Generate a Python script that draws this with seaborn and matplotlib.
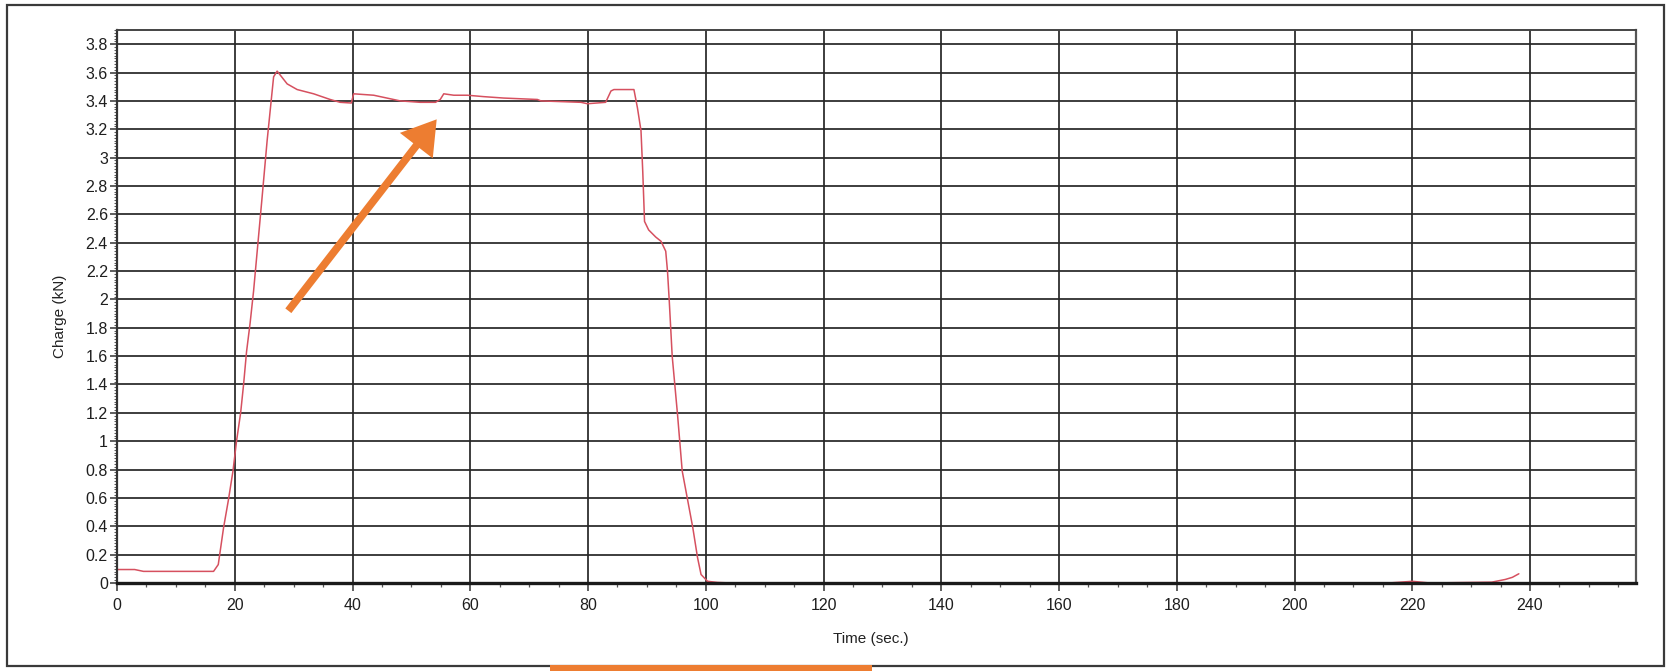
import matplotlib
matplotlib.use("Agg")
import matplotlib.pyplot as plt
from matplotlib.ticker import MultipleLocator, FuncFormatter
from matplotlib.patches import Rectangle
import seaborn as sns
import pandas as pd

# ---- data ----
time_s = [0, 3.0, 4.5, 16.4, 17.2, 18.1, 18.9, 19.7, 20.3, 21.0, 21.5, 22.0, 22.6, 23.2,
          24.6, 25.5, 26.6, 27.2, 28.9, 30.6, 33.4, 36.2, 37.9, 39.8, 40.2, 43.6, 48.1,
          51.5, 54.1, 54.9, 55.5, 57.2, 59.5, 62.3, 65.7, 71.4, 72.0, 78.8, 79.9, 83.0,
          83.9, 84.4, 87.8, 88.4, 89.0, 89.3, 89.6, 90.3, 91.5, 92.4, 93.2, 93.5, 93.8,
          94.3, 95.2, 96.0, 96.9, 97.8, 98.6, 99.2, 100.3, 102.0, 104.3, 216.0, 218.0,
          220.0, 223.0, 233.5, 235.8, 237.0, 238.1]
charge_kn = [0.095, 0.095, 0.082, 0.082, 0.13, 0.39, 0.58, 0.79, 1.0, 1.2, 1.4, 1.63, 1.83, 2.06,
             2.70, 3.12, 3.57, 3.61, 3.52, 3.48, 3.45, 3.41, 3.39, 3.385, 3.45, 3.44, 3.40,
             3.39, 3.39, 3.41, 3.45, 3.44, 3.44, 3.43, 3.42, 3.41, 3.40, 3.39, 3.38, 3.39,
             3.47, 3.48, 3.48, 3.35, 3.19, 2.90, 2.55, 2.49, 2.44, 2.41, 2.34, 2.20, 1.99,
             1.60, 1.19, 0.79, 0.59, 0.39, 0.18, 0.06, 0.012, 0.004, 0.0, 0.0, 0.006,
             0.012, 0.0, 0.006, 0.025, 0.04, 0.065]
x_major_ticks = [0, 20, 40, 60, 80, 100, 120, 140, 160, 180, 200, 220, 240]
x_label = "Time (sec.)"
y_label = "Charge (kN)"

# annotation arrow (data coordinates of tail and tip)
arrow_tail = (29.1, 1.92)
arrow_tip = (54.3, 3.27)

df = pd.DataFrame({"t": time_s, "c": charge_kn})

sns.set_style("white")
plt.rcParams["font.family"] = ["Liberation Sans", "DejaVu Sans"]

W, H = 1669, 671
fig = plt.figure(figsize=(W / 100, H / 100), dpi=100)
fig.patch.set_facecolor("white")

ax = fig.add_axes([117 / W, 1 - 583 / H, (1636 - 117) / W, (583 - 30) / H])

sns.lineplot(data=df, x="t", y="c", ax=ax, sort=False, estimator=None,
             color="#d6505f", linewidth=1.1, zorder=2)

ax.set_xlim(0, 258)
ax.set_ylim(0, 3.9)

ax.set_xticks(x_major_ticks)
ax.xaxis.set_minor_locator(MultipleLocator(5))
ax.yaxis.set_major_locator(MultipleLocator(0.2))
ax.yaxis.set_minor_locator(MultipleLocator(0.02))
ax.yaxis.set_major_formatter(FuncFormatter(lambda v, p: f"{round(v, 2):g}"))

ax.grid(True, which="major", color="#262626", linewidth=1.25, zorder=1)
ax.set_axisbelow(True)

ax.tick_params(axis="x", which="major", direction="out", length=6, width=1.1,
               color="#333333", pad=5, labelsize=11.5, labelcolor="#1e1e1e",
               bottom=True)
ax.tick_params(axis="x", which="minor", direction="out", length=3, width=0.9,
               color="#555555", bottom=True)
ax.tick_params(axis="y", which="major", direction="out", length=5, width=1.1,
               color="#333333", pad=1.5, labelsize=11.5, labelcolor="#1e1e1e",
               left=True)
ax.tick_params(axis="y", which="minor", direction="out", length=2.2, width=0.7,
               color="#555555", left=True)

for side, lw, col in [("bottom", 2.4, "#1a1a1a"), ("left", 1.6, "#333333"),
                      ("top", 1.4, "#444444"), ("right", 1.6, "#555555")]:
    ax.spines[side].set_visible(True)
    ax.spines[side].set_linewidth(lw)
    ax.spines[side].set_color(col)

ax.set_xlabel(x_label, fontsize=11, color="#222222")
ax.set_ylabel(y_label, fontsize=11, color="#222222")
ax.xaxis.set_label_coords((871 - 117) / (1636 - 117), -(632 - 583) / (583 - 30))
ax.yaxis.set_label_coords(-(117 - 67) / (1636 - 117), (583 - 316) / (583 - 30))

# orange annotation arrow
ax.annotate("", xy=arrow_tip, xytext=arrow_tail,
            arrowprops=dict(arrowstyle="-|>,head_length=0.8,head_width=0.5",
                            color="#ED7D31", lw=5.5, shrinkA=0, shrinkB=0,
                            mutation_scale=20, joinstyle="miter", capstyle="butt"),
            zorder=5)

# outer frame of the scanned page
fig.patches.append(Rectangle((7 / W, 1 - 666 / H), (1664 - 7) / W, (666 - 5) / H,
                             transform=fig.transFigure, fill=False,
                             edgecolor="#3a3a3a", linewidth=1.6, zorder=0))
# orange bar at bottom
fig.patches.append(Rectangle((550 / W, 0), (872 - 550) / W, 6 / H,
                             transform=fig.transFigure, facecolor="#ED7D31",
                             edgecolor="none", zorder=2))

fig.savefig("out.png", dpi=100, facecolor="white")
